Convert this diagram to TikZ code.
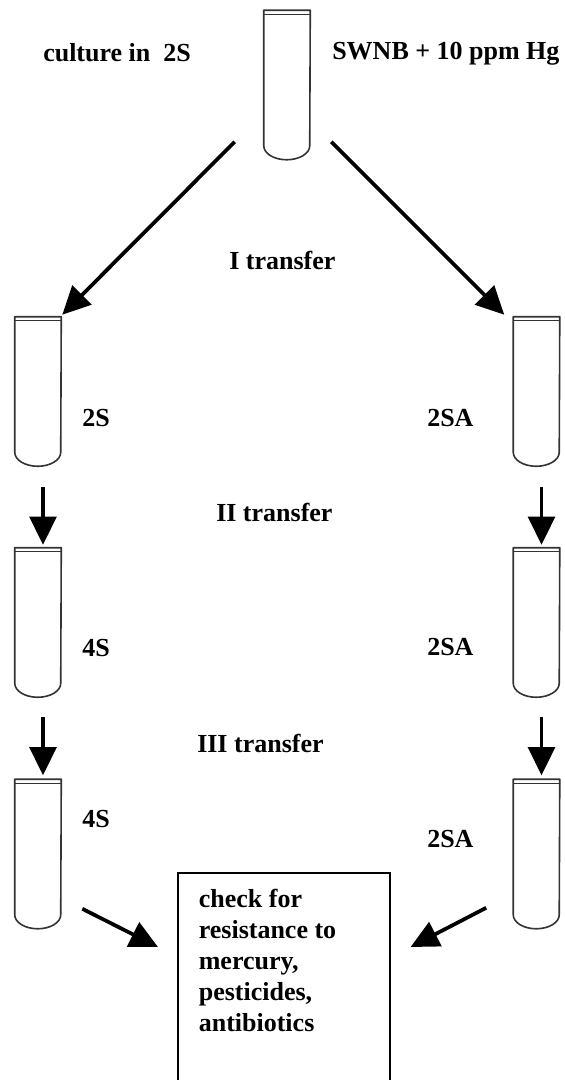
\documentclass[tikz,border=0pt]{standalone}
\usepackage{fontspec}
\setmainfont{Liberation Serif}
\usetikzlibrary{arrows.meta}

\tikzset{
  tube/.style={inner sep=0pt, minimum width=34.5pt, minimum height=111.75pt,
    append after command={\pgfextra{\let\tubenode\tikzlastnode
      \draw[black!80, line width=1.2pt, line join=round]
        (\tubenode.north west) -- ([yshift=10.5pt]\tubenode.south west)
        arc[start angle=180, end angle=360, x radius=17.25pt, y radius=10.5pt]
        -- (\tubenode.north east) -- cycle;
      \draw[black!80, line width=1pt]
        ([yshift=-3pt]\tubenode.north west) -- ([yshift=-3pt]\tubenode.north east);}}},
  lbl/.style={anchor=base west, inner sep=0pt},
  arr/.style={line width=2.8pt, -{Triangle[length=21pt, width=20pt]}},
  checkbox/.style={draw, line width=1.2pt, anchor=north west, inner xsep=15.75pt, inner ysep=12.3pt}
}

\begin{document}
\begin{tikzpicture}[x=0.75pt, y=-0.75pt, font=\bfseries\fontsize{19.5}{23.25}\selectfont]
            \path[use as bounding box] (0,0) rectangle (564,1080);
            \clip (0,0) rectangle (564,1080);

            % Tubes
            \node[tube] (top) at (287,85) {};

            \node[tube] (L1) at (38,391.5) {};
            \node[tube] (L2) at (38,622.5) {};
            \node[tube] (L3) at (38,854) {};

            \node[tube] (R1) at (536.5,391.5) {};
            \node[tube] (R2) at (536.5,622.5) {};
            \node[tube] (R3) at (536.5,854) {};

            % Box
            \node[checkbox] (check) at (177,872) {\parbox[t][180pt][t]{127.5pt}{check for\\
              resistance to\\ mercury,\\ pesticides,\\ antibiotics}};

            % Arrows
            \draw[arr] ([shift={(-29,-18)}]top.south west) -- ([shift={(1,-2)}]L1.north east);
            \draw[arr] ([shift={(21,-18)}]top.south east) -- ([shift={(-9,-2)}]R1.north west);

            \draw[arr] ([shift={(5,21)}]L1.south) -- ([shift={(5,-3)}]L2.north);
            \draw[arr] ([shift={(5,20)}]L2.south) -- ([shift={(5,-4)}]L3.north);

            \draw[arr] ([shift={(5,21)}]R1.south) -- ([shift={(5,-3)}]R2.north);
            \draw[arr] ([shift={(5,20)}]R2.south) -- ([shift={(5,-4)}]R3.north);

            \draw[arr] ([shift={(21,-20)}]L3.south east) -- ([shift={(-19,75)}]check.north west);
            \draw[arr] ([shift={(-27,-21)}]R3.south west) -- ([shift={(20,75)}]check.north east);

            % Labels
            \node[lbl] (culture) at (43,62) {culture in\ \ 2S};
            \node[lbl] (medium) at (332,60) {SWNB + 10 ppm Hg};

            \node[lbl] (tr1) at (229,270) {I transfer};
            \node[lbl] (tr2) at (216,521) {II transfer};
            \node[lbl] (tr3) at (197,752) {III transfer};

            \node[lbl] (nL1) at (82,426) {2S};
            \node[lbl] (nL2) at (82,656) {4S};
            \node[lbl] (nL3) at (82,827) {4S};

            \node[lbl] (nR1) at (427,426) {2SA};
            \node[lbl] (nR2) at (427,655) {2SA};
            \node[lbl] (nR3) at (427,847) {2SA};
        \end{tikzpicture}
\end{document}
